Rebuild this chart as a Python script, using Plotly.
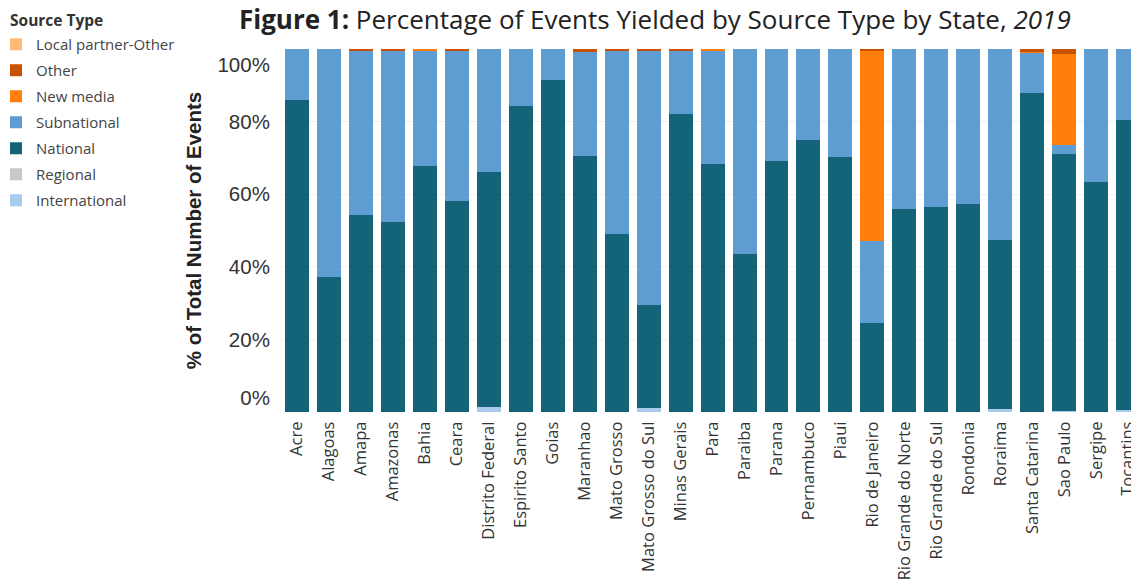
import plotly.graph_objects as go

states = ["Acre", "Alagoas", "Amapa", "Amazonas", "Bahia", "Ceara", "Distrito Federal",
          "Espirito Santo", "Goias", "Maranhao", "Mato Grosso", "Mato Grosso do Sul",
          "Minas Gerais", "Para", "Paraiba", "Parana", "Pernambuco", "Piaui",
          "Rio de Janeiro", "Rio Grande do Norte", "Rio Grande do Sul", "Rondonia",
          "Roraima", "Santa Catarina", "Sao Paulo", "Sergipe", "Tocantins"]

international = [0, 0, 0, 0, 0, 0, 1.5, 0, 0, 0, 0, 1.0, 0, 0, 0, 0, 0, 0,
                 0, 0, 0, 0, 0.8, 0, 0.4, 0, 0.6]
regional = [0] * 27
national = [86.0, 37.2, 54.3, 52.3, 67.8, 58.1, 64.6, 84.3, 91.5, 70.5, 49.0, 28.5,
            82.1, 68.3, 43.5, 69.1, 74.9, 70.2, 24.5, 55.9, 56.5, 57.3, 46.6, 87.9,
            70.7, 63.4, 79.8]
new_media = [0, 0, 0, 0, 0.5, 0, 0, 0, 0, 0, 0, 0, 0, 0.5, 0, 0, 0, 0,
             52.4, 0, 0, 0, 0, 0.3, 25.0, 0, 0]
other = [0, 0, 0.6, 0.3, 0, 0.3, 0, 0, 0, 0.7, 0.3, 0.3, 0.3, 0, 0, 0, 0, 0,
         0.4, 0, 0, 0, 0, 0.7, 1.4, 0, 0]
local_partner = [0] * 27
subnational = [round(100 - (a + b + c + d + e + f), 1) for a, b, c, d, e, f in
               zip(international, regional, national, new_media, other, local_partner)]

y_tick_vals = [4, 20, 40, 60, 80, 95.6]
y_tick_text = ["0%", "20%", "40%", "60%", "80%", "100%"]

series = [
    ("International", international, "#A8CBE9"),
    ("Regional", regional, "#C8C8C8"),
    ("National", national, "#136479"),
    ("Subnational", subnational, "#5E9CD1"),
    ("New media", new_media, "#FF7F0E"),
    ("Other", other, "#C85200"),
    ("Local partner-Other", local_partner, "#FFBC79"),
]

L, T, PW, PH = 281, 49, 850, 363  # plot area in pixels

fig = go.Figure()
for i, (name, vals, color) in enumerate(series):
    fig.add_trace(go.Bar(x=states, y=vals, name=name, marker_color=color,
                         marker_line_width=0, legendgroup=name,
                         legendrank=1000 - i))

fig.update_layout(
    width=1131, height=580,
    barmode="stack", bargap=0.25,
    paper_bgcolor="white", plot_bgcolor="white",
    margin=dict(l=L, r=1131 - L - PW, t=T, b=580 - T - PH, autoexpand=False),
    font=dict(family="Open Sans", color="#333333"),
    title=dict(
        text="<b>Figure 1:</b> Percentage of Events Yielded by Source Type by State, <i>2019</i>",
        x=0.579, xref="container", xanchor="center",
        y=0.965, yref="container", yanchor="middle",
        font=dict(family="Open Sans", size=26, color="#222222"),
    ),
    legend=dict(
        traceorder="grouped",
        x=(-4 - L) / PW, xref="paper", xanchor="left",
        y=(T + PH - 28) / PH, yref="paper", yanchor="top",
        font=dict(family="Open Sans", size=15, color="#444444"),
        tracegroupgap=3.5,
        bgcolor="rgba(0,0,0,0)",
    ),
    annotations=[dict(
        text="<b>Source Type</b>", showarrow=False,
        xref="paper", yref="paper",
        x=(8 - L) / PW, y=(T + PH - 20) / PH,
        xanchor="left", yanchor="middle",
        font=dict(family="Open Sans", size=15.5, color="#333333"),
    )],
    showlegend=True,
)

fig.update_xaxes(
    range=[-0.5, 26.09], tickangle=-90, showgrid=False,
    tickfont=dict(family="Open Sans", size=16.5, color="#333333"),
    ticks="outside", ticklen=2, tickcolor="rgba(0,0,0,0)",
    showline=False, automargin=False,
)
fig.update_yaxes(
    range=[0, 100], tickmode="array", tickvals=y_tick_vals, ticktext=y_tick_text,
    showgrid=False, zeroline=False, automargin=False,
    tickfont=dict(family="Liberation Sans", size=20.5, color="#333333"),
    ticks="outside", ticklen=6, tickcolor="rgba(0,0,0,0)",
    minor=dict(tickvals=[20, 40, 60, 80], showgrid=True, gridcolor="#F0F0F0", gridwidth=1),
    title=dict(text="<b>% of Total Number of Events</b>", standoff=10,
               font=dict(family="Liberation Sans", size=20.5, color="#222222")),
)

fig.write_html("out.html", config={"displayModeBar": False},
               post_script="document.body.style.margin='0';")
